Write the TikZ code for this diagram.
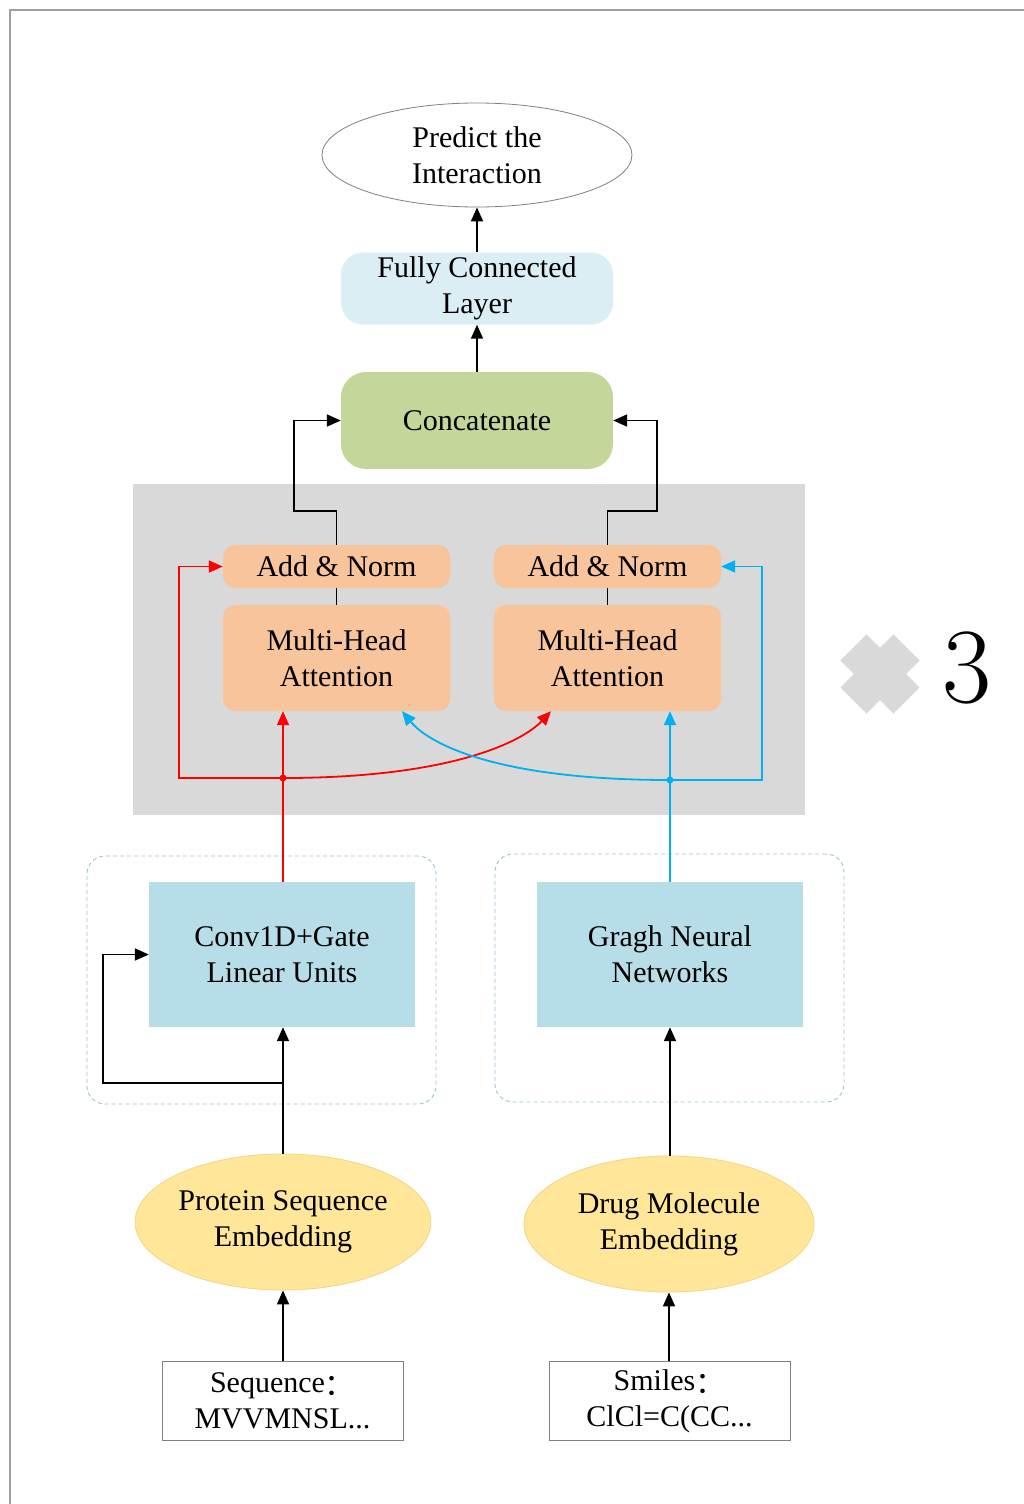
\documentclass[tikz,border=0pt]{standalone}
\usepackage{fontspec}
\setmainfont{Liberation Serif}
\newfontfamily\cjk{Noto Sans CJK SC}
\usetikzlibrary{arrows.meta,shapes.geometric,calc}
\definecolor{fcblue}{HTML}{DAEEF3}
\definecolor{concatgreen}{HTML}{C4D79B}
\definecolor{graybg}{HTML}{D9D9D9}
\definecolor{orangebox}{HTML}{F8C49B}
\definecolor{boxblue}{HTML}{B7DEE8}
\definecolor{yellowfill}{HTML}{FFE699}
\definecolor{yellowedge}{HTML}{F2D584}
\definecolor{redline}{HTML}{FF0000}
\definecolor{cyanline}{HTML}{00B0F0}
\definecolor{dashcol}{HTML}{9CC3D5}
\definecolor{framegray}{HTML}{A0A0A0}
\newcommand{\fwcolon}{\raisebox{-3pt}{\cjk ：}}
\begin{document}
\begin{tikzpicture}[x=1pt,y=-1pt,
  font=\fontsize{30}{36}\selectfont,
  every node/.style={align=center, inner sep=0pt},
  tip/.style={-{Triangle[length=14pt,width=12pt]}},
  arr/.style={tip, line width=1.8pt, draw=black},
  redarr/.style={tip, line width=1.8pt, draw=redline, color=redline},
  bluearr/.style={tip, line width=1.8pt, draw=cyanline, color=cyanline},
  plainline/.style={line width=1.8pt, draw=black},
  ovalnode/.style={ellipse, draw=gray, line width=0.8pt},
  orangebx/.style={fill=orangebox, rounded corners=12pt, minimum width=227pt},
  bluebx/.style={fill=boxblue, minimum width=266pt, minimum height=145pt},
  embed/.style={ellipse, fill=yellowfill, draw=yellowedge, line width=0.8pt, minimum width=290pt, minimum height=136pt},
  inputbx/.style={draw=gray, line width=0.8pt, fill=white, minimum width=241pt, minimum height=79pt},
  groupbx/.style={draw=dashcol, line width=0.9pt, dash pattern=on 4pt off 3pt, rounded corners=18pt, minimum width=349pt, minimum height=248pt}
]
\useasboundingbox (0,0) rectangle (1024,1504);
\fill[white] (0,0) rectangle (1024,1504);
\draw[framegray, line width=1.2pt] (10,1504) -- (10,10) -- (1024,10);

% encoder background
\node[fill=graybg, minimum width=672pt, minimum height=331pt] (enc) at (469,649.5) {};

% top part
\node[ovalnode, minimum width=310pt, minimum height=104pt] (pred) at (477,155) {Predict the\\Interaction};
\node[fill=fcblue, rounded corners=22pt, minimum width=272pt, minimum height=67pt] (fc) at (477,288.5) {\raisebox{-3pt}{\begin{tabular}{@{}c@{}}Fully Connected\\Layer\end{tabular}}};
\node[fill=concatgreen, rounded corners=25pt, minimum width=272pt, minimum height=97pt] (concat) at (477,420.5) {Concatenate};

% attention blocks
\node[orangebx, minimum height=43pt] (anL) at (336.5,566.5) {Add \& Norm};
\node[orangebx, minimum height=106pt] (mhaL) at (336.5,658) {Multi-Head\\Attention};
\node[orangebx, minimum height=43pt] (anR) at (607.5,566.5) {Add \& Norm};
\node[orangebx, minimum height=106pt] (mhaR) at (607.5,658) {Multi-Head\\Attention};

% x 3
\node[fill=graybg, minimum width=75pt, minimum height=37pt, rotate=45] (crossa) at (880,674) {};
\node[fill=graybg, minimum width=75pt, minimum height=37pt, rotate=-45] (crossb) at (880,674) {};
\node[font=\fontfamily{lmr}\selectfont\fontsize{107}{107}\selectfont] (three) at (967.5,668) {3};

% groups
\node[groupbx] (grpL) at (261.5,980) {};
\node[groupbx] (grpR) at (669.5,978) {};
\node[bluebx] (conv) at (282,954.5) {Conv1D+Gate\\Linear Units};
\node[bluebx] (gnn) at (670,954.5) {Gragh Neural\\Networks};

% embeddings
\node[embed] (prot) at (283,1222) {Protein Sequence\\Embedding};
\node[embed] (drug) at (669,1224) {Drug Molecule\\Embedding};

% inputs
\node[inputbx] (seq) at (282.5,1401) {Sequence\fwcolon\\MVVMNSL...};
\node[inputbx] (smi) at (669.5,1401) {Smiles\fwcolon\\ClCl=C(CC...};

% top connectors
\draw[arr] (fc.north) -- (pred.south);
\draw[arr] (concat.north) -- (fc.south);
\coordinate (jl) at (294,511);
\coordinate (jr) at (657,511);
\draw[arr] (anL.north) |- (jl) |- (concat.west);
\draw[arr] (anR.north) |- (jr) |- (concat.east);
\draw[plainline] (mhaL.north) -- (anL.south);
\draw[plainline] (mhaR.north) -- (anR.south);

% red paths
\coordinate (rd) at (283,778);
\coordinate (rl) at (179,778);
\draw[redarr] (conv.north -| rd) -- (rd |- mhaL.south);
\draw[redarr] (rd) -- (rl) |- (anL.west);
\draw[redarr] (rd) .. controls (450,778) and (522,742) .. ($(mhaR.south)+(-56.5,0)$);
\fill[redline] (rd) circle (3.5pt);

% blue paths
\coordinate (bd) at (670,780);
\coordinate (br) at (762,780);
\draw[bluearr] (gnn.north) -- (gnn.north |- mhaR.south);
\draw[bluearr] (bd) -- (br) |- (anR.east);
\draw[bluearr] (bd) .. controls (500,780) and (430,745) .. ($(mhaL.south)+(65.5,0)$);
\fill[cyanline] (bd) circle (3.5pt);

% bottom connectors
\coordinate (pb) at (283,1083);
\coordinate (pbl) at (103,1083);
\draw[arr] (prot.north) -- (prot.north |- conv.south);
\draw[arr] (pb) -- (pbl) |- (conv.west);
\draw[arr] (drug.north -| gnn.south) -- (gnn.south);
\draw[arr] (seq.north -| prot.south) -- (prot.south);
\draw[arr] (smi.north -| drug.south) -- (drug.south);
\end{tikzpicture}
\end{document}
